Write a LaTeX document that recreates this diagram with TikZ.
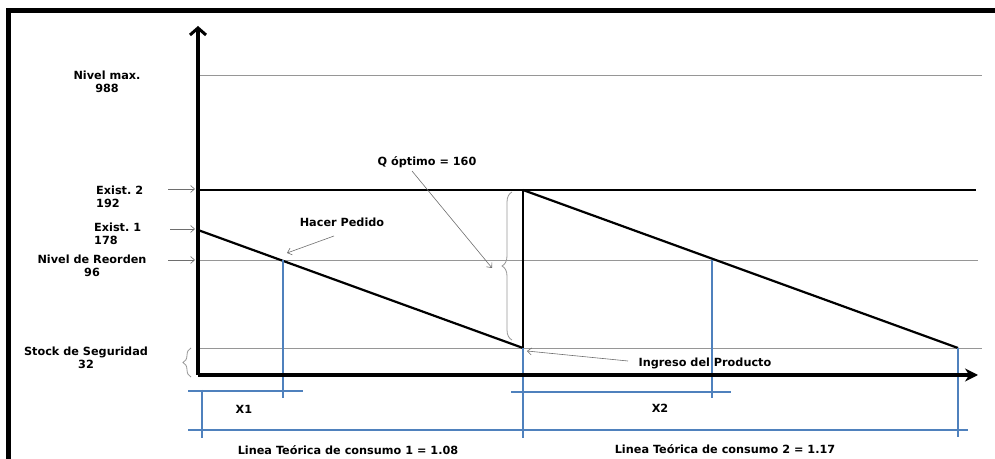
\documentclass[tikz,border=0pt]{standalone}
\usepackage{fontspec}
\setmainfont{DejaVu Sans}
\usetikzlibrary{arrows.meta,decorations.pathreplacing}

\definecolor{guidegray}{RGB}{150,150,150}
\definecolor{pointergray}{RGB}{110,110,110}
\definecolor{measureblue}{RGB}{79,129,189}

\tikzset{
  lbl/.style={font=\bfseries\fontsize{11.3}{12.8}\selectfont, inner sep=0pt, align=center},
  lblleft/.style={lbl, align=left, anchor=west},
  frameline/.style={line width=5bp, black},
  axisline/.style={line width=3.6bp, black},
  guide/.style={draw=guidegray, line width=0.9bp},
  levelline/.style={draw=black, line width=1.8bp},
  stockline/.style={draw=black, line width=2.2bp},
  blueline/.style={draw=measureblue, line width=2.2bp},
  pointer/.style={draw=pointergray, line width=0.6bp, -{Straight Barb[length=4bp,width=7bp]}},
  bracegray/.style={draw=guidegray, line width=0.8bp, decorate}
}

\begin{document}
\begin{tikzpicture}[x=1bp,y=-1bp]
\useasboundingbox (0,0) rectangle (995,459);

% frame edges
\draw[frameline] (8.5,459) -- (8.5,11) -- (995,11);

% key points of the chart
\coordinate (origin) at (198,375);
\coordinate (ytop) at (198,26);
\coordinate (xend) at (978,375);
\coordinate (e1) at (198,230);
\coordinate (e2) at (198,190);
\coordinate (dip1) at (523,348);
\coordinate (peak2) at (523,190);
\coordinate (dip2) at (958,348);
\coordinate (ro1) at (283,260);
\coordinate (ro2) at (712,260);

% level guide lines
\draw[guide] (198,75) -- (982,75);
\draw[guide] (198,260) -- (978,260);
\draw[guide] (198,348) -- (982,348);
\draw[levelline] (e2) -- (976,190);

% stock curve
\draw[stockline] (e1) -- (dip1);
\draw[stockline] (dip1) -- (peak2);
\draw[stockline] (peak2) -- (dip2);

% time measurements
\draw[blueline] (ro1) -- (283,398);
\draw[blueline] (ro2) -- (712,398);
\draw[blueline] (dip1) -- (523,438);
\draw[blueline] (dip2) -- (958,437);
\draw[blueline] (202,390) -- (202,438);
\draw[blueline] (188,391) -- (303,391);
\draw[blueline] (511,392) -- (731,392);
\draw[blueline] (188,430) -- (968,430);

% axes
\draw[axisline, -{Straight Barb[length=7bp,width=16bp,line width=3bp]}] (origin) -- (ytop);
\draw[axisline, -{Stealth[length=13bp,width=13bp]}] (origin) -- (xend);

% labels on the stock axis
\node[lbl] (nmax) at (107,82) {Nivel max.\\988};
\node[lblleft] (ex2) at (96,197) {Exist.\ 2\\192};
\node[lblleft] (ex1) at (94,234) {Exist.\ 1\\178};
\node[lbl] (reo) at (92,266) {Nivel de Reorden\\96};
\node[lbl] (ss) at (86,358) {Stock de Seguridad\\32};

\coordinate (ex2tail) at (168,189);
\coordinate (ex2head) at (195,189);
\coordinate (ex1tail) at (170,229);
\coordinate (ex1head) at (195,229);
\coordinate (reotail) at (168,260);
\coordinate (reohead) at (195,260);
\draw[pointer] (ex2tail) -- (ex2head);
\draw[pointer] (ex1tail) -- (ex1head);
\draw[pointer] (reotail) -- (reohead);

\draw[bracegray, decoration={brace, amplitude=8bp}] (191,377) -- (191,348);

% annotations inside the chart
\node[lbl] (qopt) at (427,162) {Q óptimo = 160};
\draw[bracegray, decoration={brace, amplitude=10bp}] (512,340) -- (512,192);
\coordinate (qtail) at (412,171);
\coordinate (qtip) at (492,268);
\draw[pointer] (qtail) -- (qtip);

\node[lbl] (pedido) at (342,222) {Hacer Pedido};
\coordinate (pedtail) at (334,236);
\coordinate (pedhead) at (287,253);
\draw[pointer] (pedtail) -- (pedhead);

\node[lbl] (ingreso) at (705,363) {Ingreso del Producto};
\coordinate (ingtail) at (628,361);
\coordinate (inghead) at (527,351);
\draw[pointer] (ingtail) -- (inghead);

\node[lbl] (x1) at (244,409) {X1};
\node[lbl] (x2) at (660,408) {X2};
\node[lbl] (c1) at (348,450) {Linea Teórica de consumo 1 = 1.08};
\node[lbl] (c2) at (725,449) {Linea Teórica de consumo 2 = 1.17};
\end{tikzpicture}
\end{document}
